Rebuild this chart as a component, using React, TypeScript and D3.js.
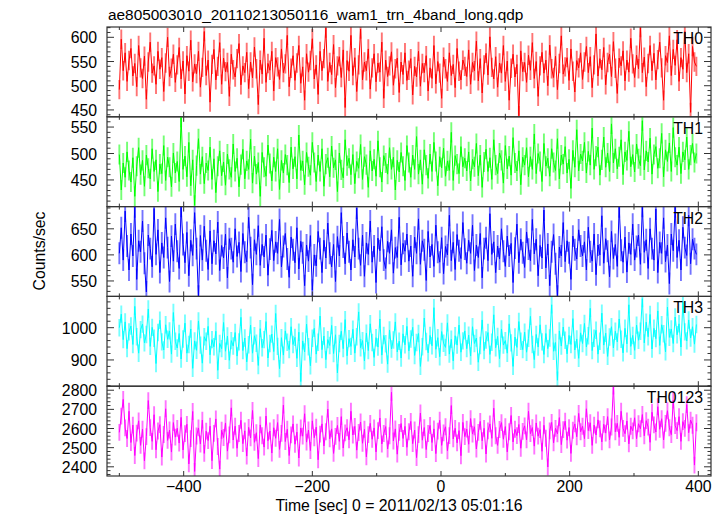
import React from "react";
import * as d3 from "d3";

const TITLE = "ae805003010_20110213050116_wam1_trn_4band_long.qdp";
const X_LABEL = "Time [sec] 0 = 2011/02/13 05:01:16";
const Y_LABEL = "Counts/sec";

// time bins (sec): start and bin width
const T_START = -500;
const T_STEP = 3;

const TH0 = [
  492,596,531,568,509,552,577,520,546,498,583,537,515,561,472,549,590,526,541,503,571,534,558,488,547,600,519,536,565,507,
  543,579,514,551,483,562,530,594,508,545,525,571,497,538,612,521,553,466,544,575,512,540,589,503,557,529,548,478,565,533,
  518,556,587,502,541,527,569,494,549,516,580,535,461,553,524,598,507,546,532,571,489,558,539,513,576,527,545,604,498,536,
  562,511,547,583,505,539,470,566,528,552,597,514,543,482,571,531,556,619,509,548,523,585,496,541,560,517,574,455,552,530,
  604,521,558,488,543,617,512,549,531,576,493,537,566,508,547,528,590,474,553,519,541,570,501,535,557,486,549,523,568,511,
  532,556,481,540,518,571,499,546,527,562,489,537,515,583,504,550,526,474,559,535,509,568,521,544,496,577,530,512,553,540,
  519,574,503,548,531,592,510,556,485,543,567,522,601,538,514,560,497,547,526,583,509,551,470,536,565,518,544,438,572,529,
  548,507,563,532,589,515,550,478,541,569,526,553,500,584,535,517,561,492,546,603,524,539,558,511,576,530,487,552,537,568,
  513,549,581,527,560,496,543,607,520,556,533,579,502,548,565,519,591,536,484,557,541,572,510,553,528,598,545,517,563,535,
  620,527,559,498,546,583,531,567,512,554,590,537,470,562,548,603,521,575,542,595,509,558,534,612,527,566,445,581,549,540,
];

const TH1 = [
  498,431,482,455,503,468,446,492,419,476,511,460,487,438,497,472,452,509,466,488,428,480,462,515,449,493,474,437,501,463,
  485,447,568,470,495,456,521,439,488,402,477,528,461,494,443,482,468,512,451,490,426,476,505,458,484,440,499,470,455,518,
  466,491,437,479,508,452,486,470,527,444,495,461,483,419,502,474,457,516,481,448,493,466,509,432,487,463,498,478,445,512,
  471,494,452,535,468,486,441,502,475,459,521,483,447,497,466,509,438,480,492,456,514,473,488,428,501,469,454,526,477,491,
  460,498,443,485,472,517,451,494,479,436,505,467,489,457,524,474,446,496,482,461,511,470,493,431,487,465,502,476,449,515,
  483,455,497,470,532,461,488,442,507,478,453,499,466,521,485,439,494,473,510,457,486,468,540,449,496,480,462,513,475,491,
  467,503,448,489,475,519,458,497,436,484,508,466,492,451,526,478,462,501,487,444,515,471,495,459,530,482,467,505,441,493,
  478,511,456,494,470,537,462,500,485,447,519,476,491,457,509,483,468,528,452,497,480,513,463,489,434,506,474,545,467,499,
  486,521,463,504,478,548,470,495,512,459,488,531,474,501,466,556,482,509,471,494,526,460,503,487,542,475,498,465,518,490,
  477,562,469,505,484,529,461,498,513,472,491,538,456,507,485,520,466,549,493,478,512,462,503,488,531,470,497,519,483,500,
];

const TH2 = [
  603,652,590,684,617,571,640,598,692,553,627,606,665,584,529,638,612,577,689,601,648,566,623,595,671,614,549,636,588,659,
  607,574,693,620,585,643,560,628,599,681,612,521,637,590,655,608,572,646,583,627,602,663,570,618,594,640,556,631,612,586,
  650,597,624,568,641,605,587,672,614,543,629,601,656,580,620,596,638,561,611,647,589,625,603,668,577,616,641,592,557,634,
  610,585,652,573,626,604,541,619,588,637,532,600,579,645,612,566,628,594,661,603,577,620,549,635,598,681,615,583,642,606,
  571,629,596,690,612,580,638,559,623,601,665,586,617,547,632,608,654,590,574,626,603,648,565,614,595,672,581,622,607,640,
  588,617,559,634,603,669,582,627,610,551,645,596,620,578,657,605,586,633,564,616,600,676,589,624,572,639,608,593,662,611,
  584,628,603,657,570,619,595,641,556,612,633,589,679,601,625,566,617,592,650,607,578,636,598,622,547,613,659,585,630,604,
  576,644,611,589,668,602,630,560,618,594,686,575,621,541,606,639,583,521,615,598,662,587,627,604,553,636,610,592,648,617,
  598,625,571,653,606,588,640,562,619,600,675,584,631,607,558,645,593,620,578,692,609,586,634,567,623,601,659,590,616,638,
  582,693,605,629,574,650,612,590,688,566,624,603,671,587,619,545,640,608,692,595,628,571,653,614,599,676,583,630,612,601,
];

const TH3 = [
  1000,1042,963,1018,935,987,1005,948,1066,972,921,994,1011,953,979,1058,942,1001,967,889,985,1023,956,931,1009,964,990,918,1047,958,
  937,982,903,965,1014,921,948,996,874,959,930,1021,946,890,972,958,1004,916,963,941,989,868,951,935,1016,927,974,899,960,943,
  985,912,956,1032,929,968,894,947,1008,921,975,952,883,997,938,963,1019,906,951,980,926,1044,942,873,969,915,990,955,932,1003,
  948,970,905,986,833,959,925,1011,941,882,967,998,918,955,1036,932,974,901,963,945,1007,920,978,860,951,989,935,1025,913,966,
  942,995,921,972,1049,938,960,897,983,929,1012,954,908,969,940,1027,915,976,950,887,993,934,962,1018,925,958,906,981,947,1004,
  928,965,1001,914,954,982,880,941,1030,957,922,976,944,1062,933,969,910,988,952,939,1015,918,964,897,975,946,1008,924,959,990,
  935,977,912,1003,951,968,893,945,1024,929,962,985,917,955,1040,938,973,904,996,946,960,921,1012,953,880,971,939,1019,958,932,
  986,924,967,1035,948,901,979,940,1009,956,917,982,935,968,1071,927,954,837,990,943,1002,961,919,976,948,1028,931,965,905,984,
  951,1013,940,975,1060,929,967,992,918,958,1045,946,983,911,971,1003,937,989,956,1027,964,922,998,950,1071,942,976,930,1008,961,
  989,1090,953,1017,972,1041,934,998,966,1052,945,1009,981,925,1064,970,996,951,1033,978,1012,940,1080,987,959,1024,968,1003,949,1010,
];

const TH0123 = [
  2580,2665,2752,2603,2548,2690,2527,2618,2459,2576,2640,2512,2597,2431,2558,2746,2605,2533,2672,2489,2587,2620,2451,2569,2703,2538,2592,2477,2631,2555,
  2601,2524,2658,2488,2573,2622,2415,2547,2689,2376,2561,2603,2519,2644,2470,2586,2537,2612,2432,2575,2650,2506,2388,2591,2553,2629,2482,2567,2708,2540,
  2612,2497,2574,2643,2521,2588,2456,2606,2551,2694,2528,2578,2443,2619,2562,2503,2665,2536,2587,2472,2604,2549,2631,2491,2575,2722,2532,2596,2459,2567,
  2624,2518,2581,2446,2603,2560,2677,2529,2592,2485,2640,2552,2607,2437,2571,2624,2509,2583,2701,2546,2598,2470,2559,2616,2533,2662,2498,2577,2604,2541,
  2690,2566,2611,2487,2579,2634,2523,2596,2452,2568,2627,2544,2603,2478,2589,2655,2519,2574,2610,2493,2562,2789,2535,2598,2466,2580,2626,2548,2611,2502,
  2583,2637,2521,2592,2448,2568,2681,2539,2605,2490,2574,2616,2527,2598,2469,2586,2643,2512,2577,2609,2484,2563,2720,2546,2601,2525,2589,2458,2632,2558,
  2597,2518,2652,2571,2609,2493,2580,2637,2536,2601,2467,2588,2624,2549,2706,2562,2512,2595,2631,2544,2610,2478,2583,2668,2530,2596,2563,2621,2497,2585,
  2614,2541,2690,2573,2605,2508,2629,2560,2594,2481,2617,2549,2399,2588,2632,2525,2601,2572,2657,2516,2594,2638,2539,2605,2470,2591,2624,2557,2679,2583,
  2612,2547,2703,2589,2630,2512,2618,2566,2645,2598,2530,2622,2576,2662,2541,2608,2821,2583,2627,2554,2690,2601,2573,2639,2520,2612,2588,2656,2547,2625,
  2599,2673,2562,2641,2607,2528,2685,2619,2582,2714,2596,2651,2540,2627,2693,2604,2568,2748,2615,2589,2662,2533,2636,2601,2725,2578,2644,2617,2409,2630,
];

const SERIES = [TH0, TH1, TH2, TH3, TH0123];
const SERIES_NAMES = ["TH0", "TH1", "TH2", "TH3", "TH0123"];
const SERIES_COLORS = ["#ff0000", "#00ff00", "#0000ff", "#00ffff", "#ff00ff"];
const SERIES_ERRORS = [20, 19, 21, 27, 44];
const Y_DOMAINS: [number, number][] = [
  [435.8, 621.3],
  [399.6, 569.4],
  [520.4, 692.6],
  [818.6, 1097],
  [2352, 2821],
];
const Y_MAJOR = [
  [450, 500, 550, 600],
  [450, 500, 550],
  [550, 600, 650],
  [900, 1000],
  [2400, 2500, 2600, 2700, 2800],
];
const Y_MINOR_STEP = [10, 10, 10, 20, 20];
const X_MAJOR = [-400, -200, 0, 200, 400];
const X_MINOR = [-500, -300, -100, 100, 300];
const X_DOMAIN: [number, number] = [-519.2, 419.7];

const W = 723;
const H = 516;
const LEFT = 107;
const RIGHT = 711;
const TOP = 27;
const BOTTOM = 476;
const FONT = "'Liberation Sans', Arial, Helvetica, sans-serif";
const FS = 15.8;

export default function App() {
  const nP = SERIES.length;
  const panelH = (BOTTOM - TOP) / nP;
  const x = d3.scaleLinear().domain(X_DOMAIN).range([LEFT, RIGHT]);

  return (
    <svg width={W} height={H} style={{ position: "absolute", left: 0, top: 0, background: "#fff" }}>
      <rect x={0} y={0} width={W} height={H} fill="#fff" />
      <defs>
        {SERIES.map((_, i) => (
          <clipPath id={`clip${i}`} key={i}>
            <rect x={LEFT} y={TOP + i * panelH} width={RIGHT - LEFT} height={panelH} />
          </clipPath>
        ))}
      </defs>
      <text x={LEFT + 1} y={20} fontFamily={FONT} fontSize={15.4} fill="#000">
        {TITLE}
      </text>
      {SERIES.map((vals, i) => {
        const y0 = TOP + i * panelH;
        const y1 = y0 + panelH;
        const y = d3.scaleLinear().domain(Y_DOMAINS[i]).range([y1, y0]);
        const times = vals.map((_, k) => T_START + k * T_STEP);
        const line = d3
          .line<number>()
          .x((_, k) => x(times[k]))
          .y((v) => y(v));
        const err = SERIES_ERRORS[i];
        const [d0, d1] = Y_DOMAINS[i];
        const step = Y_MINOR_STEP[i];
        const minors: number[] = [];
        for (let v = Math.ceil(d0 / step) * step; v <= d1; v += step) {
          if (!Y_MAJOR[i].includes(v)) minors.push(v);
        }
        return (
          <g key={i}>
            <g clipPath={`url(#clip${i})`}>
              {vals.map((v, k) => (
                <line
                  key={k}
                  x1={x(times[k])}
                  x2={x(times[k])}
                  y1={y(v - err)}
                  y2={y(v + err)}
                  stroke={SERIES_COLORS[i]}
                  strokeOpacity={0.55}
                  strokeWidth={1.9}
                />
              ))}
              <path d={line(vals) || ""} fill="none" stroke={SERIES_COLORS[i]} strokeWidth={1} />
            </g>
            {Y_MAJOR[i].map((v) => (
              <g key={`M${v}`}>
                <line x1={LEFT} x2={LEFT + 7} y1={y(v)} y2={y(v)} stroke="#333" strokeWidth={1} />
                <line x1={RIGHT} x2={RIGHT - 7} y1={y(v)} y2={y(v)} stroke="#333" strokeWidth={1} />
                <text
                  x={97}
                  y={y(v) + 6}
                  textAnchor="end"
                  fontFamily={FONT}
                  fontSize={FS}
                  fill="#000"
                >
                  {v}
                </text>
              </g>
            ))}
            {minors.map((v) => (
              <g key={`m${v}`}>
                <line x1={LEFT} x2={LEFT + 3.5} y1={y(v)} y2={y(v)} stroke="#333" strokeWidth={1} />
                <line x1={RIGHT} x2={RIGHT - 3.5} y1={y(v)} y2={y(v)} stroke="#333" strokeWidth={1} />
              </g>
            ))}
            {X_MAJOR.map((t) => (
              <g key={`xM${t}`}>
                <line x1={x(t)} x2={x(t)} y1={y1} y2={y1 - 5} stroke="#333" strokeWidth={1} />
                <line x1={x(t)} x2={x(t)} y1={y0} y2={y0 + 5} stroke="#333" strokeWidth={1} />
              </g>
            ))}
            {X_MINOR.map((t) => (
              <g key={`xm${t}`}>
                <line x1={x(t)} x2={x(t)} y1={y1} y2={y1 - 3} stroke="#333" strokeWidth={1} />
                <line x1={x(t)} x2={x(t)} y1={y0} y2={y0 + 3} stroke="#333" strokeWidth={1} />
              </g>
            ))}
            <rect x={LEFT} y={y0} width={RIGHT - LEFT} height={panelH} fill="none" stroke="#333" strokeWidth={1.2} />
            <text
              x={RIGHT - 8}
              y={y0 + 17}
              textAnchor="end"
              fontFamily={FONT}
              fontSize={FS}
              fill="#000"
            >
              {SERIES_NAMES[i]}
            </text>
          </g>
        );
      })}
      {X_MAJOR.map((t) => (
        <text
          key={`xl${t}`}
          x={x(t)}
          y={492}
          textAnchor="middle"
          fontFamily={FONT}
          fontSize={FS}
          fill="#000"
        >
          {t < 0 ? `\u2212${Math.abs(t)}` : `${t}`}
        </text>
      ))}
      <text x={399} y={511} textAnchor="middle" fontFamily={FONT} fontSize={FS} fill="#000">
        {X_LABEL}
      </text>
      <text
        transform={`translate(45, 251) rotate(-90)`}
        textAnchor="middle"
        fontFamily={FONT}
        fontSize={FS}
        fill="#000"
      >
        {Y_LABEL}
      </text>
    </svg>
  );
}
